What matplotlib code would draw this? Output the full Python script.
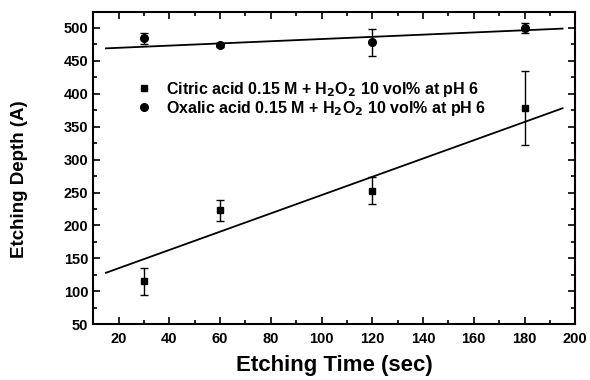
import numpy as np
import matplotlib.pyplot as plt
from matplotlib.ticker import MultipleLocator
from matplotlib.lines import Line2D

plt.rcParams['font.family'] = ['Liberation Sans', 'DejaVu Sans']
plt.rcParams['font.weight'] = 'bold'
plt.rcParams['mathtext.default'] = 'bf'

# measured points
time = [30, 60, 120, 180]
citric = [115, 223, 253, 378]
citric_err = [20, 16, 20, 56]
oxalic = [484, 474, 478, 500]
oxalic_err = [9, 3, 20, 8]

# fitted lines (end points)
fit_x = [15, 195]
citric_fit = [128, 378]
oxalic_fit = [469, 499]

labels = [r'Citric acid 0.15 M + H$_2$O$_2$ 10 vol% at pH 6',
          r'Oxalic acid 0.15 M + H$_2$O$_2$ 10 vol% at pH 6']

fig = plt.figure(figsize=(5.9, 3.8), dpi=100)
ax = fig.add_axes([0.158, 0.147, 0.817, 0.821])

ax.errorbar(time, citric, yerr=citric_err, fmt='s', color='black', ms=5,
            capsize=3, elinewidth=1, capthick=1)
ax.errorbar(time, oxalic, yerr=oxalic_err, fmt='o', color='black', ms=5.5,
            capsize=3, elinewidth=1, capthick=1)
ax.plot(fit_x, citric_fit, color='black', lw=1.3)
ax.plot(fit_x, oxalic_fit, color='black', lw=1.3)

ax.set_xlim(10, 200)
ax.set_ylim(50, 524)
ax.xaxis.set_major_locator(MultipleLocator(20))
ax.xaxis.set_minor_locator(MultipleLocator(10))
ax.yaxis.set_major_locator(MultipleLocator(50))
ax.yaxis.set_minor_locator(MultipleLocator(25))
ax.set_xticks(np.arange(20, 201, 20))
ax.set_yticks(np.arange(50, 501, 50))
ax.tick_params(which='both', direction='in', top=True, right=True, width=1.2)
ax.tick_params(which='major', length=5, labelsize=10.5)
ax.tick_params(which='minor', length=3)
ax.tick_params(axis='x', pad=6)
for s in ax.spines.values():
    s.set_linewidth(1.5)

ax.set_xlabel('Etching Time (sec)', fontsize=16, fontweight='bold')
ax.xaxis.set_label_coords(0.5, -0.1)
ax.set_ylabel('Etching Depth (A)', fontsize=13.5, fontweight='bold')
ax.yaxis.set_label_coords(-0.135, 0.465)

handles = [Line2D([], [], ls='none', marker='s', color='black', ms=5),
           Line2D([], [], ls='none', marker='o', color='black', ms=5.5)]
ax.legend(handles, labels, loc='upper left', bbox_to_anchor=(0.055, 0.83),
          frameon=False, fontsize=11.5, handletextpad=0.8, labelspacing=0.0,
          handlelength=1.2)

fig.savefig('out.png', dpi=100)
